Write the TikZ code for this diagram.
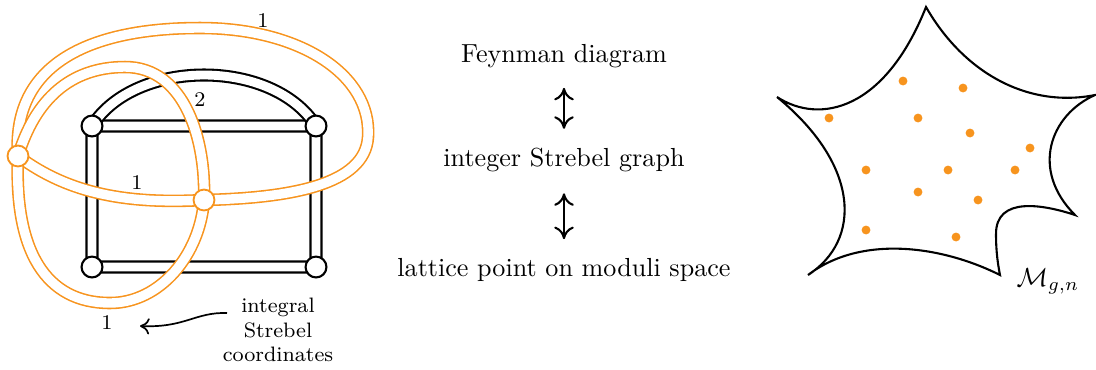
\documentclass[tikz,border=0pt]{standalone}
\usetikzlibrary{arrows.meta,backgrounds}
\definecolor{strebor}{RGB}{247,148,30}
\begin{document}
\begin{tikzpicture}[x=0.383pt,y=-0.383pt,
  bedge/.style={draw=black, line width=0.8pt, double=white, double distance=3.4pt},
  oedge/.style={draw=strebor, line width=0.6pt, double=white, double distance=3.6pt},
  bvert/.style={circle, draw=black, fill=white, line width=0.8pt, minimum size=8pt, inner sep=0pt},
  overt/.style={circle, draw=strebor, fill=white, line width=0.7pt, minimum size=8pt, inner sep=0pt},
  lab/.style={font=\footnotesize, inner sep=0.5pt},
  pt/.style={circle, fill=strebor, minimum size=3.4pt, inner sep=0pt},
  txt/.style={inner sep=0pt},
  cmtip/.tip={Computer Modern Rightarrow[length=4.8pt,width=7.5pt]},
  corr/.style={line width=0.8pt, cmtip-cmtip}
]
\useasboundingbox (0,0) rectangle (1096,369);

% ---------- black Strebel graph ----------
\node[bvert] (v1) at (92,126) {};
\node[bvert] (v2) at (316,126) {};
\node[bvert] (v3) at (92,267) {};
\node[bvert] (v4) at (316,267) {};

% ---------- orange vertices ----------
\node[overt] (A) at (18,156) {};
\node[overt] (B) at (204,200) {};

\begin{scope}[on background layer]
  \begin{scope}[blend group=multiply]
   \begin{scope}[blend mode=normal]
    \draw[bedge] (v1.center) -- (v2.center);
    \draw[bedge] (v1.center) -- (v3.center);
    \draw[bedge] (v2.center) -- (v4.center);
    \draw[bedge] (v3.center) -- (v4.center);
    \draw[bedge] (v1.center) .. controls (135,58) and (273,58) .. (v2.center);
   \end{scope}
  \end{scope}
  \begin{scope}[blend group=multiply]
   \begin{scope}[blend mode=normal]
    % big outer loop
    \draw[oedge] (A.center) .. controls (12,70) and (80,28) .. (200,28)
                 .. controls (300,28) and (372,75) .. (368,137)
                 .. controls (365,185) and (290,198) .. (B.center);
    % inner loop through the top
    \draw[oedge] (B.center) .. controls (206,140) and (185,67) .. (125,67)
                 .. controls (70,67) and (35,100) .. (A.center);
    % direct edge
    \draw[oedge] (A.center) .. controls (70,195) and (130,204) .. (B.center);
    % bottom loop
    \draw[oedge] (A.center) .. controls (14,250) and (45,303) .. (110,303)
                 .. controls (160,303) and (200,255) .. (B.center);
   \end{scope}
  \end{scope}
\end{scope}

% labels
\node[lab] (l1) at (263,21) {1};
\node[lab] (l2) at (200,100) {2};
\node[lab] (l3) at (137,183) {1};
\node[lab] (l4) at (107,323) {1};

\node[font=\footnotesize, align=center, inner sep=0pt] (coords) at (278,330) {integral\\Strebel\\coordinates};
\coordinate (cs) at (227,313);
\coordinate (ce) at (140,326);
\draw[line width=0.65pt, -{Computer Modern Rightarrow[length=3.6pt,width=6.2pt]}] (cs) .. controls (195,312) and (185,328) .. (ce);

% ---------- middle correspondence ----------
\node[txt] (feyn) at (564,56.5) {Feynman diagram};
\node[txt] (streb) at (564,160) {integer Strebel graph};
\node[txt] (latt) at (564,269.5) {lattice point on moduli space};
\draw[corr, shorten <=7.3pt, shorten >=7.2pt] (feyn) -- (streb);
\draw[corr, shorten <=8pt, shorten >=7pt] (streb) -- (latt);

% ---------- moduli space ----------
\draw[line width=0.8pt, line join=miter]
  (926,7) .. controls (965,75) and (1030,108) .. (1095,95)
  .. controls (1050,115) and (1030,170) .. (1075,215)
  .. controls (1045,205) and (995,195) .. (996,235)
  .. controls (996,252) and (998,265) .. (1000,275)
  .. controls (940,245) and (860,235) .. (808,275)
  .. controls (862,240) and (860,165) .. (777,97)
  .. controls (820,125) and (885,110) .. (926,7) -- cycle;

\node[pt] (d1) at (903,81) {};
\node[pt] (d2) at (963,88) {};
\node[pt] (d3) at (829,118) {};
\node[pt] (d4) at (918,118) {};
\node[pt] (d5) at (970,133) {};
\node[pt] (d6) at (1030,148) {};
\node[pt] (d7) at (866,170) {};
\node[pt] (d8) at (948,170) {};
\node[pt] (d9) at (1015,170) {};
\node[pt] (d10) at (918,192) {};
\node[pt] (d11) at (978,200) {};
\node[pt] (d12) at (866,230) {};
\node[pt] (d13) at (956,237) {};

\node (mgn) at (1048,281) {$\mathcal{M}_{g,n}$};
\end{tikzpicture}
\end{document}
